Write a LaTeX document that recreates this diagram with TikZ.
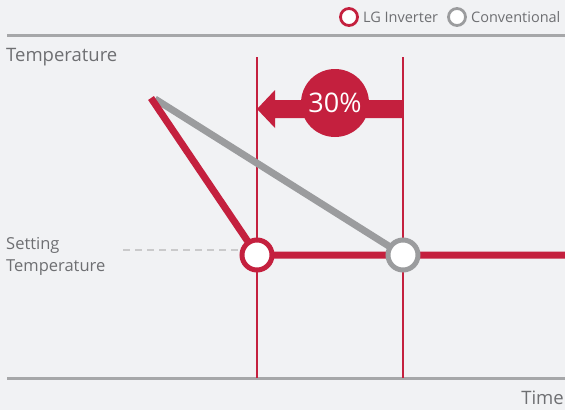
\documentclass[tikz,border=0pt]{standalone}
\usepackage{fontspec}
\setmainfont{Open Sans}
\usetikzlibrary{positioning}
\definecolor{lgred}{HTML}{C4203E}
\definecolor{lggrey}{HTML}{9B9C9E}
\definecolor{axisgrey}{HTML}{A6A7A9}
\definecolor{txtgrey}{HTML}{6E6F72}
\definecolor{bggrey}{HTML}{F1F2F4}
\tikzset{
  axis/.style={draw=axisgrey, line width=3pt},
  marker/.style={draw=lgred, line width=1.5pt},
  curve/.style={line width=7pt, line cap=butt},
  dot/.style={circle, fill=white, line width=5pt, minimum size=30pt, inner sep=0pt},
  legdot/.style={circle, fill=white, line width=2.8pt, minimum size=17pt, inner sep=0pt},
  label/.style={text=txtgrey, font=\fontsize{18.5}{22}\selectfont, inner sep=0pt},
  legtext/.style={label, font=\fontsize{14.5}{17}\selectfont}
}
\begin{document}
\begin{tikzpicture}[x=1pt, y=-1pt]
  \fill[bggrey] (0,0) rectangle (565,410);
  \useasboundingbox (0,0) rectangle (565,410);
  %%%%% LEGEND %%%%%
  \node[legdot, draw=lgred] (legred) at (349,17) {};
  \node[legtext, right=4pt of legred] (legredtxt) {LG Inverter};
  \node[legdot, draw=lggrey] (leggrey) at (457,17) {};
  \node[legtext, right=4pt of leggrey] (leggreytxt) {Conventional};
  %%%%% AXES %%%%%
  \coordinate (ytop) at (7,35);
  \coordinate (ytopend) at (565,35);
  \coordinate (xbot) at (7,378);
  \coordinate (xbotend) at (565,378);
  \draw[axis] (ytop) -- (ytopend);
  \draw[axis] (xbot) -- (xbotend);
  \node[label, anchor=west] (templabel) at (6,57) {Temperature};
  \node[label, anchor=east] (timelabel) at (564,398) {Time};
  \node[label, anchor=west, align=left, font=\fontsize{16.5}{22}\selectfont] (setlabel) at (6,256) {Setting\\Temperature};
  %%%%% MARKERS %%%%%
  \coordinate (start) at (151,98);
  \coordinate (lgpt) at (257,255);
  \coordinate (convpt) at (403,255);
  \coordinate (endpt) at (565,255);
  \draw[marker] (257,57) -- (257,378);
  \draw[marker] (403,57) -- (403,378);
  \draw[draw=axisgrey!60, line width=1.2pt, dash pattern=on 7pt off 5pt] (123,250) -- (240,250);
  %%%%% CURVES %%%%%
  \draw[curve, lggrey] (155,99) -- (convpt);
  \draw[curve, lgred] (start) -- (lgpt) -- (endpt);
  \node[dot, draw=lgred] (lgdot) at (lgpt) {};
  \node[dot, draw=lggrey] (convdot) at (convpt) {};
  %%%%% ARROW %%%%%
  \fill[lgred] (403,100) -- (275,100) -- (275,90) -- (257,109) -- (275,128) -- (275,118) -- (403,118) -- cycle;
  \node[circle, fill=lgred, minimum size=68pt, inner sep=0pt, text=white,
        font=\fontsize{27}{30}\selectfont] (saving) at (335,103) {30\%};
\end{tikzpicture}
\end{document}
